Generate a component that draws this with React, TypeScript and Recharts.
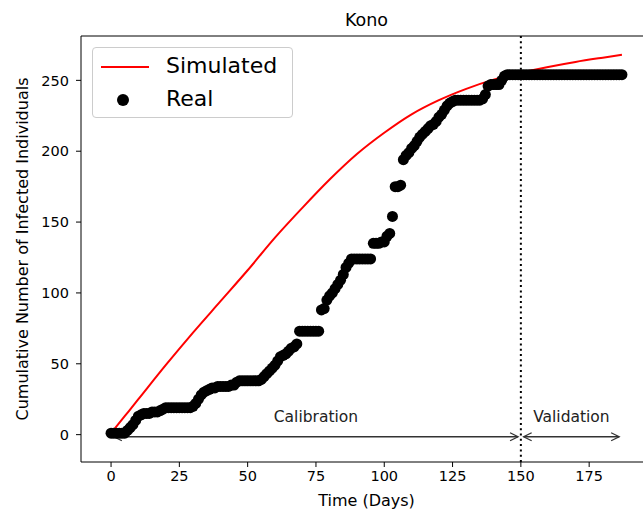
import React from "react"
import {
  ComposedChart,
  Line,
  Scatter,
  XAxis,
  YAxis,
  ReferenceLine,
  Legend,
  Label,
} from "recharts"

// simulated cumulative infections, read at a few days
const simDays = [0, 5, 10, 20, 30, 40, 50, 60, 70, 80, 90, 100, 110, 120, 130, 140, 150, 160, 170, 180, 187]
const simValues = [1, 13, 25, 49, 72, 94, 116, 139, 160, 180, 198, 213, 226, 236, 244, 250.5, 255.5, 259.5, 263, 266, 268]

// real cumulative infections, one value per day starting at day 0
const realValues = [
  1, 1, 1, 1, 1, 1, 3, 5, 7, 10,
  13, 14, 15, 15, 15, 16, 16, 16, 17, 18,
  19, 19, 19, 19, 19, 19, 19, 19, 19, 19,
  20, 22, 25, 28, 30, 31, 32, 33, 33, 34,
  34, 34, 34, 34, 35, 35, 37, 38, 38, 38,
  38, 38, 38, 38, 38, 39, 41, 43, 45, 47,
  49, 52, 55, 56, 57, 59, 61, 62, 64, 73,
  73, 73, 73, 73, 73, 73, 73, 88, 89, 95,
  98, 100, 103, 106, 109, 113, 118, 121, 124, 124,
  124, 124, 124, 124, 124, 124, 135, 135, 135, 136,
  136, 140, 142, 154, 175, 175, 176, 194, 197, 199,
  202, 204, 207, 210, 212, 214, 216, 218, 219, 221,
  224, 226, 229, 232, 234, 235, 236, 236, 236, 236,
  236, 236, 236, 236, 236, 236, 237, 240, 246, 247,
  247, 247, 247, 250, 253, 254, 254, 254, 254, 254,
  254, 254, 254, 254, 254, 254, 254, 254, 254, 254,
  254, 254, 254, 254, 254, 254, 254, 254, 254, 254,
  254, 254, 254, 254, 254, 254, 254, 254, 254, 254,
  254, 254, 254, 254, 254, 254, 254, 254,
]

const xTicks = [0, 25, 50, 75, 100, 125, 150, 175]
const yTicks = [0, 50, 100, 150, 200, 250]

const splitDay = 150
const lastDay = 187

const simData = simDays.map((day, i) => ({ day, v: simValues[i] }))
const realData = realValues.map((v, day) => ({ day, v }))

const FONT = "'DejaVu Sans', sans-serif"
const X_DOMAIN: [number, number] = [-11, 198]
const Y_DOMAIN: [number, number] = [-19.3, 281.3]

// double-headed arrow with a caption, like matplotlib's '<->' annotation
function arrowShape(caption: string) {
  return (props: any) => {
    const { x1, y1, x2, y2 } = props
    if (x1 == null || x2 == null) return <g />
    const shrink = 2.8
    const a = x1 + shrink
    const b = x2 - shrink
    const y = (y1 + y2) / 2
    const c = "#333"
    return (
      <g>
        <line x1={a} y1={y} x2={b} y2={y} stroke={c} strokeWidth={1.3} />
        <polyline points={`${a + 8},${y - 4} ${a},${y} ${a + 8},${y + 4}`} fill="none" stroke={c} strokeWidth={1.3} />
        <polyline points={`${b - 8},${y - 4} ${b},${y} ${b - 8},${y + 4}`} fill="none" stroke={c} strokeWidth={1.3} />
        <text x={(a + b) / 2} y={y - 15} textAnchor="middle" fontSize={15.5} fill="#222" fontFamily={FONT}>
          {caption}
        </text>
      </g>
    )
  }
}

function LegendBox() {
  return (
    <div
      style={{
        position: "relative",
        width: 201,
        height: 71,
        boxSizing: "border-box",
        border: "1px solid #cccccc",
        borderRadius: 4,
        background: "rgba(255,255,255,0.8)",
        fontFamily: FONT,
        fontSize: 22,
        color: "#000",
      }}
    >
      <svg width={60} height={71} style={{ position: "absolute", left: 0, top: 0 }}>
        <line x1={8} y1={19} x2={56} y2={19} stroke="#ff0000" strokeWidth={2} />
        <circle cx={30} cy={52} r={6} fill="#000" />
      </svg>
      <div style={{ position: "absolute", left: 73, top: 5, lineHeight: "26px" }}>Simulated</div>
      <div style={{ position: "absolute", left: 73, top: 38, lineHeight: "26px" }}>Real</div>
    </div>
  )
}

export default function App() {
  return (
    <div
      style={{
        position: "absolute",
        left: 0,
        top: 0,
        width: 643,
        height: 517,
        overflow: "hidden",
        background: "#fff",
        fontFamily: FONT,
      }}
    >
      <ComposedChart width={660} height={517} margin={{ top: 36, right: 8, bottom: 0, left: 0 }}>
        <XAxis
          type="number"
          dataKey="day"
          domain={X_DOMAIN}
          ticks={xTicks}
          allowDataOverflow
          height={55}
          tickSize={5}
          tickMargin={4}
          stroke="#000"
          tick={{ fill: "#000", fontSize: 14.5 }}
        >
          <Label
            content={({ viewBox }: any) => (
              <text
                x={viewBox.x + viewBox.width / 2}
                y={viewBox.y + 44}
                textAnchor="middle"
                fontSize={16}
                fill="#000"
                fontFamily={FONT}
              >
                Time (Days)
              </text>
            )}
          />
        </XAxis>
        <YAxis
          type="number"
          domain={Y_DOMAIN}
          ticks={yTicks}
          allowDataOverflow
          width={81}
          tickSize={5}
          tickMargin={7}
          stroke="#000"
          tick={{ fill: "#000", fontSize: 14.5 }}
        >
          <Label
            content={({ viewBox }: any) => {
              const cx = viewBox.x + 22
              const cy = viewBox.y + viewBox.height / 2
              return (
                <text
                  x={cx}
                  y={cy}
                  textAnchor="middle"
                  dominantBaseline="central"
                  transform={`rotate(-90, ${cx}, ${cy})`}
                  fontSize={16}
                  fill="#000"
                  fontFamily={FONT}
                >
                  Cumulative Number of Infected Individuals
                </text>
              )
            }}
          />
        </YAxis>

        {/* top spine, carrying the title */}
        <ReferenceLine
          y={Y_DOMAIN[1]}
          stroke="#000"
          strokeWidth={1}
          ifOverflow="visible"
          label={{ value: "Kono", position: "top", offset: 10, fontSize: 17.5, fill: "#000", fontFamily: FONT }}
        />

        <ReferenceLine x={splitDay} stroke="#000" strokeWidth={2} strokeDasharray="2 3.3" />

        <ReferenceLine
          segment={[{ x: 0, y: -1.5 }, { x: splitDay, y: -1.5 }]}
          ifOverflow="visible"
          shape={arrowShape("Calibration")}
        />
        <ReferenceLine
          segment={[{ x: splitDay, y: -1.5 }, { x: lastDay, y: -1.5 }]}
          ifOverflow="visible"
          shape={arrowShape("Validation")}
        />

        <Scatter
          name="Real"
          data={realData}
          dataKey="v"
          fill="#000"
          isAnimationActive={false}
          shape={(p: any) => <circle cx={p.cx} cy={p.cy} r={5.5} fill="#000" />}
        />
        <Line
          name="Simulated"
          data={simData}
          dataKey="v"
          type="monotone"
          stroke="#ff0000"
          strokeWidth={2}
          dot={false}
          activeDot={false}
          isAnimationActive={false}
        />

        <Legend
          layout="vertical"
          align="center"
          verticalAlign="middle"
          content={() => <LegendBox />}
          wrapperStyle={{ left: 92, top: 47, width: 201, height: 71 }}
        />
      </ComposedChart>
    </div>
  )
}
